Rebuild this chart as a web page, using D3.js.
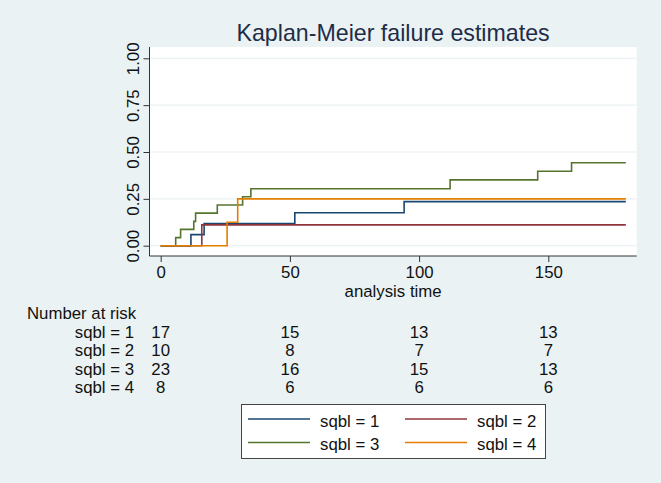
<!DOCTYPE html>
<html><head><meta charset="utf-8">
<script src="https://cdn.jsdelivr.net/npm/d3@7"></script>
<style>
html,body{margin:0;padding:0;background:#eaf2f3;}
svg{display:block;font-family:"Liberation Sans",Arial,sans-serif;}
</style></head>
<body>
<script>
// ---- data ----
const categories = ["sqbl = 1", "sqbl = 2", "sqbl = 3", "sqbl = 4"];
const g1Times = [0, 11.7, 16.8, 51.9, 94.2, 180];
const g1Fail  = [0, 0.059, 0.118, 0.176, 0.235, 0.235];
const g2Times = [0, 15.9, 180];
const g2Fail  = [0, 0.111, 0.111];
const g3Times = [0, 5.8, 7.7, 12.8, 13.5, 21.9, 31.7, 34.9, 112, 145.9, 159, 180];
const g3Fail  = [0, 0.043, 0.087, 0.130, 0.174, 0.217, 0.261, 0.304, 0.351, 0.397, 0.443, 0.443];
const g4Times = [0, 25.7, 29.8, 180];
const g4Fail  = [0, 0.125, 0.25, 0.25];
const riskTimes = [0, 50, 100, 150];
const risk1 = [17, 15, 13, 13];
const risk2 = [10, 8, 7, 7];
const risk3 = [23, 16, 15, 13];
const risk4 = [8, 6, 6, 6];
const yTicks = [0, 0.25, 0.5, 0.75, 1];
const yTickLabels = ["0.00", "0.25", "0.50", "0.75", "1.00"];
const xTicks = [0, 50, 100, 150];
const colors = ["#1a476f", "#90353b", "#55752f", "#e37e00"];

const W = 661, H = 483;
const FS = 16.8;
const svg = d3.select("body").append("svg").attr("width", W).attr("height", H);
svg.append("rect").attr("width", W).attr("height", H).attr("fill", "#eaf2f3");

const plot = {left: 149.5, right: 636.7, top: 47, bottom: 256};
const x = d3.scaleLinear().domain([0, 150]).range([160.7, 548.3]);
const y = d3.scaleLinear().domain([0, 1]).range([245.7, 58.3]);

// plot region
svg.append("rect").attr("x", plot.left).attr("y", plot.top)
  .attr("width", plot.right - plot.left).attr("height", plot.bottom - plot.top)
  .attr("fill", "#ffffff");

// gridlines
svg.append("g").selectAll("line").data(yTicks).join("line")
  .attr("x1", plot.left).attr("x2", plot.right)
  .attr("y1", d => y(d)).attr("y2", d => y(d))
  .attr("stroke", "#eaf2f3").attr("stroke-width", 1.2);

// title
svg.append("text").attr("x", (plot.left + plot.right) / 2).attr("y", 41)
  .attr("text-anchor", "middle").attr("font-size", 23.2).attr("fill", "#1e2c48")
  .text("Kaplan-Meier failure estimates");

// y axis
const yAxis = svg.append("g").attr("transform", `translate(${plot.left},0)`)
  .call(d3.axisLeft(y).tickValues(yTicks).tickFormat((d, i) => yTickLabels[i]).tickSize(6).tickSizeOuter(0).tickPadding(4));
yAxis.select(".domain").remove();
yAxis.selectAll(".tick line").attr("stroke", "#333").attr("stroke-width", 1);
yAxis.selectAll(".tick text")
  .attr("font-size", FS).attr("fill", "#111").attr("font-family", "Liberation Sans, Arial, sans-serif")
  .attr("text-anchor", "middle").attr("dy", null)
  .attr("x", null)
  .attr("transform", "translate(-10.5,0) rotate(-90)")
  .attr("y", 0);
svg.append("line").attr("x1", plot.left).attr("x2", plot.left)
  .attr("y1", plot.top).attr("y2", plot.bottom).attr("stroke", "#333").attr("stroke-width", 1);

// x axis
const xAxis = svg.append("g").attr("transform", `translate(0,${plot.bottom})`)
  .call(d3.axisBottom(x).tickValues(xTicks).tickFormat(d3.format("d")).tickSize(6).tickSizeOuter(0).tickPadding(4));
xAxis.select(".domain").remove();
xAxis.selectAll(".tick line").attr("stroke", "#333").attr("stroke-width", 1);
xAxis.selectAll(".tick text").attr("font-size", FS).attr("fill", "#111")
  .attr("font-family", "Liberation Sans, Arial, sans-serif");
svg.append("line").attr("x1", plot.left).attr("x2", plot.right)
  .attr("y1", plot.bottom).attr("y2", plot.bottom).attr("stroke", "#333").attr("stroke-width", 1);

svg.append("text").attr("x", (plot.left + plot.right) / 2).attr("y", 297)
  .attr("text-anchor", "middle").attr("font-size", FS).attr("fill", "#111")
  .text("analysis time");

// curves
const series = [
  {t: g1Times, f: g1Fail},
  {t: g2Times, f: g2Fail},
  {t: g3Times, f: g3Fail},
  {t: g4Times, f: g4Fail}
];
const line = d3.line().x(d => x(d[0])).y(d => y(d[1])).curve(d3.curveStepAfter);
series.forEach((s, i) => {
  svg.append("path").datum(s.t.map((t, j) => [t, s.f[j]]))
    .attr("d", line).attr("fill", "none").attr("stroke", colors[i]).attr("stroke-width", 1.6);
});

// number at risk table
svg.append("text").attr("x", 27).attr("y", 318.5).attr("font-size", FS).attr("fill", "#111")
  .text("Number at risk");
const risks = [risk1, risk2, risk3, risk4];
risks.forEach((r, i) => {
  const by = 337.5 + i * 18.5;
  svg.append("text").attr("x", 134).attr("y", by).attr("text-anchor", "end")
    .attr("font-size", FS).attr("fill", "#111").text(categories[i]);
  svg.append("g").selectAll("text").data(riskTimes).join("text")
    .attr("x", d => x(d)).attr("y", by).attr("text-anchor", "middle")
    .attr("font-size", FS).attr("fill", "#111").text((d, j) => r[j]);
});

// legend
const lg = svg.append("g");
lg.append("rect").attr("x", 241.5).attr("y", 404.5).attr("width", 304).attr("height", 54)
  .attr("fill", "#ffffff").attr("stroke", "#444").attr("stroke-width", 1);
const legPos = [[248, 419], [405, 419], [248, 442.5], [405, 442.5]];
categories.forEach((c, i) => {
  const [lx, ly] = legPos[i];
  lg.append("line").attr("x1", lx).attr("x2", lx + 62).attr("y1", ly).attr("y2", ly)
    .attr("stroke", colors[i]).attr("stroke-width", 1.6);
  lg.append("text").attr("x", lx + 72).attr("y", ly + 7.5).attr("font-size", FS).attr("fill", "#111").text(c);
});
</script>
</body></html>
